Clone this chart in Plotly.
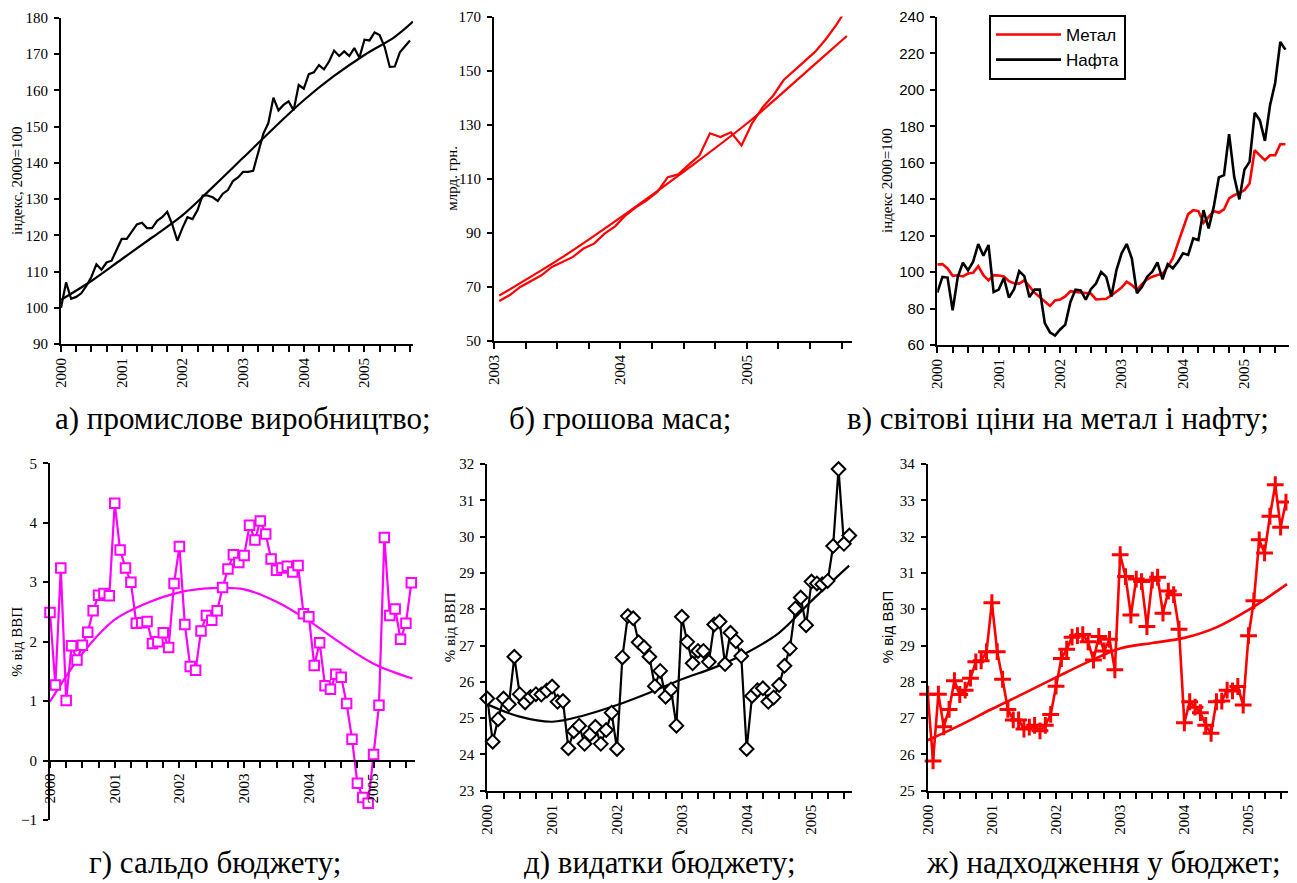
import plotly.graph_objects as go

# target image is 1297x883; the page body adds an 8px margin, so the figure is
# drawn 8px smaller and every layout position is shifted by that margin.
TW, TH = 1297, 883
OFF = 8
W, H = TW - OFF, TH - OFF
SERIF = "Liberation Serif, Times New Roman, Times, serif"
SANS = "Liberation Sans, Arial, Helvetica, sans-serif"
RED = "#FF0000"
MAG = "#FF00FF"

# ---------------- data ----------------
# a) industrial production, monthly from Jan 2000
prod_index = [100, 107, 102.5, 103, 104, 106, 108.5, 112, 110.5, 112.5, 113, 116,
              119, 119, 121, 123, 123.5, 122, 122, 124, 125, 126.5, 123, 118.5,
              122, 125, 124.5, 127, 131, 131, 130.5, 129.5, 131.5, 132.5, 135, 136,
              137.5, 137.5, 137.8, 143, 148, 151, 158, 154.5, 156, 157, 154.5, 161.5,
              160.5, 164.5, 165, 167, 165.8, 168, 171, 169.5, 170.8, 169.5, 171.7, 169,
              174, 173.8, 176, 175.3, 172, 166.5, 166.6, 170.5, 172, 173.8]
prod_trend_t = [0, 0.5, 1, 1.5, 2, 2.5, 3, 3.5, 4, 4.5, 5, 5.5, 5.8]
prod_trend_v = [102.2, 107.4, 113.4, 119.4, 125.5, 133.3, 141.4, 149.5, 157.3, 164, 169.8, 174.8, 179]
prod_years = [2000, 2001, 2002, 2003, 2004, 2005]

# b) money supply, monthly from Jan 2003
money = [64.8, 67, 70, 72.1, 74.3, 77.4, 79.3, 81.1, 84.2, 86, 89.7, 92.4,
         96.5, 99.5, 102, 105.1, 110.6, 111.6, 115.2, 118.6, 126.8, 125.4, 127.2, 122.3,
         130.5, 136.4, 140.7, 146.5, 150, 153.6, 157, 161.6, 166.9, 173]
money_trend_k = [0, 6, 12, 18, 24, 30, 33]
money_trend_v = [66.8, 81, 97, 114, 132, 152.5, 162.8]
money_years = [2003, 2004, 2005]

# c) world prices, monthly from Jan 2000
metal = [104.2, 104.4, 102, 98, 98.3, 97.6, 99.2, 99.6, 103.3, 98.3, 95.5, 98.3,
         98.1, 97.6, 95, 93.9, 93.7, 95.5, 92.2, 88.7, 86.3, 83.6, 81.4, 84.5,
         85, 86.7, 89.5, 89.1, 88.7, 88.5, 88.2, 85, 85, 85.4, 87.2, 89.2,
         91.6, 94.7, 92.9, 90.2, 93.5, 96, 97.5, 98.4, 99, 102.9, 107.5, 115.8,
         124, 131.8, 134, 133.5, 127, 130.4, 133.5, 132.6, 134.4, 140.4, 142.2, 143.5,
         145, 148.6, 166.9, 164.1, 161.4, 164.1, 164.1, 170.2, 170.2]
oil = [88.7, 97.4, 97, 79, 97.4, 105.1, 101, 105.7, 115.4, 109, 114.9, 89.1,
       90.4, 96.8, 86, 90.6, 100.5, 97.8, 86.3, 90.4, 90.4, 72, 67, 65.2,
       68.5, 71.2, 83.6, 90.4, 90, 84.9, 90.6, 93.7, 100.1, 97.4, 86.6, 101.1,
       110.3, 115.4, 107.5, 88.4, 92, 97.5, 100.2, 105.3, 96, 104.4, 102.1, 105.7,
       110.3, 109.4, 118.5, 117.6, 134, 124, 135.8, 152, 153.2, 175.7, 152.3, 139.9,
       156.3, 160.5, 187.4, 183.4, 172, 191.6, 203.8, 226.3, 222.1]
price_years = [2000, 2001, 2002, 2003, 2004, 2005]

# d) budget balance, % of GDP, monthly from Jan 2000
balance = [2.49, 1.27, 3.24, 1.01, 1.93, 1.69, 1.94, 2.16, 2.52, 2.78, 2.81, 2.77,
           4.33, 3.54, 3.24, 3.0, 2.31, 2.32, 2.34, 1.97, 2.0, 2.15, 1.9, 2.98,
           3.6, 2.29, 1.58, 1.52, 2.18, 2.44, 2.36, 2.52, 2.91, 3.22, 3.46, 3.33,
           3.45, 3.96, 3.71, 4.03, 3.81, 3.39, 3.2, 3.24, 3.27, 3.17, 3.28, 2.47,
           2.42, 1.6, 1.98, 1.26, 1.2, 1.45, 1.4, 0.96, 0.36, -0.38, -0.62, -0.72,
           0.1, 0.93, 3.75, 2.44, 2.55, 2.04, 2.31, 2.99]
balance_trend_t = [0, 0.5, 1, 1.5, 2, 2.5, 3, 3.5, 4, 4.5, 5, 5.6]
balance_trend_v = [0.99, 1.8, 2.37, 2.65, 2.83, 2.9, 2.88, 2.67, 2.35, 1.97, 1.63, 1.38]

# e) budget expenditures, % of GDP
spend = [25.54, 24.35, 24.97, 25.54, 25.38, 26.69, 25.66, 25.43, 25.58, 25.66, 25.65, 25.76,
         25.87, 25.45, 25.47, 24.17, 24.64, 24.79, 24.29, 24.55, 24.76, 24.29, 24.67, 25.15,
         24.15, 26.67, 27.81, 27.75, 27.09, 26.95, 26.69, 25.88, 26.3, 25.59, 25.79, 24.79,
         27.79, 27.1, 26.51, 26.85, 26.85, 26.55, 27.58, 27.66, 26.49, 27.35, 27.12, 26.71,
         24.15, 25.61, 25.77, 25.82, 25.45, 25.57, 25.91, 26.44, 26.92, 28.02, 28.32, 27.56,
         28.76, 28.71, 28.69, 28.78, 29.74, 31.86, 29.8, 30.03]
spend_trend_t = [0, 0.5, 1, 1.5, 2, 2.5, 3, 3.5, 4, 4.5, 5, 5.58]
spend_trend_v = [25.38, 25.04, 24.9, 25.08, 25.36, 25.7, 26.07, 26.39, 26.8, 27.35, 28.23, 29.2]

# f) budget revenues, % of GDP
revenue = [27.66, 25.82, 27.66, 26.76, 27.24, 28.03, 27.65, 27.77, 28.1, 28.55, 28.58, 28.83,
           30.18, 28.83, 28.07, 27.24, 26.95, 26.95, 26.7, 26.75, 26.8, 26.65, 26.8, 27.1,
           27.88, 28.64, 28.9, 29.23, 29.27, 29.3, 29.1, 28.6, 29.25, 28.85, 29.17, 28.33,
           31.5, 30.9, 29.84, 30.83, 30.76, 29.52, 30.8, 30.88, 29.89, 30.5, 30.4, 29.45,
           26.87, 27.45, 27.3, 27.15, 26.8, 26.58, 27.45, 27.47, 27.77, 27.75, 27.87, 27.36,
           29.27, 30.23, 31.91, 31.55, 32.56, 33.43, 32.26, 32.95]
revenue_trend_t = [0, 0.5, 1, 1.5, 2, 2.5, 3, 3.5, 4, 4.5, 5, 5.6]
revenue_trend_v = [26.39, 26.8, 27.25, 27.68, 28.12, 28.55, 28.92, 29.07, 29.21, 29.5, 29.98, 30.69]

captions = ["а) промислове виробництво;", "б) грошова маса;",
            "в) світові ціни на метал і нафту;", "г) сальдо бюджету;",
            "д) видатки бюджету;", "ж) надходження у бюджет;"]
ytitles = ["індекс, 2000=100", "млрд. грн.", "індекс 2000=100",
           "% від ВВП", "% від ВВП", "% від ВВП"]


def months(start_year, n, offset=0.0):
    return [start_year + (i + offset) / 12 for i in range(n)]


fig = go.Figure()
LW = 2.2

# a
fig.add_trace(go.Scatter(x=[2000 + t for t in prod_trend_t], y=prod_trend_v, mode="lines",
                         line=dict(color="black", width=LW, shape="spline"),
                         xaxis="x", yaxis="y", showlegend=False))
fig.add_trace(go.Scatter(x=months(2000, len(prod_index)), y=prod_index, mode="lines",
                         line=dict(color="black", width=LW), xaxis="x", yaxis="y", showlegend=False))
# b
fig.add_trace(go.Scatter(x=[2003 + (k + 0.5) / 12 for k in money_trend_k], y=money_trend_v,
                         mode="lines", line=dict(color=RED, width=LW, shape="spline"),
                         xaxis="x2", yaxis="y2", showlegend=False))
fig.add_trace(go.Scatter(x=months(2003, len(money), 0.5), y=money, mode="lines",
                         line=dict(color=RED, width=LW), xaxis="x2", yaxis="y2", showlegend=False))
# c
fig.add_trace(go.Scatter(x=months(2000, len(metal)), y=metal, mode="lines", name="Метал",
                         line=dict(color=RED, width=2.6), xaxis="x3", yaxis="y3",
                         legendgroup="m"))
fig.add_trace(go.Scatter(x=months(2000, len(oil)), y=oil, mode="lines", name="Нафта",
                         line=dict(color="black", width=2.6), xaxis="x3", yaxis="y3",
                         legendgroup="o"))
# d
fig.add_trace(go.Scatter(x=[2000 + t for t in balance_trend_t], y=balance_trend_v, mode="lines",
                         line=dict(color=MAG, width=LW, shape="spline"),
                         xaxis="x4", yaxis="y4", showlegend=False))
fig.add_trace(go.Scatter(x=months(2000, len(balance)), y=balance, mode="lines+markers",
                         line=dict(color=MAG, width=LW),
                         marker=dict(symbol="square", size=9.5, color="white",
                                     line=dict(color=MAG, width=2)),
                         cliponaxis=False, xaxis="x4", yaxis="y4", showlegend=False))
# e
fig.add_trace(go.Scatter(x=[2000 + t for t in spend_trend_t], y=spend_trend_v, mode="lines",
                         line=dict(color="black", width=LW, shape="spline"),
                         xaxis="x5", yaxis="y5", showlegend=False))
fig.add_trace(go.Scatter(x=months(2000, len(spend)), y=spend, mode="lines+markers",
                         line=dict(color="black", width=LW),
                         marker=dict(symbol="diamond", size=10.5, color="white",
                                     line=dict(color="black", width=2)),
                         cliponaxis=False, xaxis="x5", yaxis="y5", showlegend=False))
# f
fig.add_trace(go.Scatter(x=[2000 + t for t in revenue_trend_t], y=revenue_trend_v, mode="lines",
                         line=dict(color=RED, width=LW + 0.4, shape="spline"),
                         xaxis="x6", yaxis="y6", showlegend=False))
fig.add_trace(go.Scatter(x=months(2000, len(revenue)), y=revenue, mode="lines+markers",
                         line=dict(color=RED, width=LW + 0.4),
                         marker=dict(symbol="cross-thin", size=12, color=RED,
                                     line=dict(color=RED, width=3)),
                         cliponaxis=False, xaxis="x6", yaxis="y6", showlegend=False))


def px_x(x):
    return (x - OFF) / W


def px_y(y):
    return 1 - (y - OFF) / H


def xdom(l, r):
    return [px_x(l), px_x(r)]


def ydom(top, bottom):
    return [px_y(bottom), px_y(top)]


def quarter_ticks(years, end):
    vals, texts = [], []
    for y in years:
        for q in range(4):
            v = y + q / 4
            if v <= end + 1e-9:
                vals.append(v)
                texts.append(str(y) if q == 0 else "")
    return vals, texts


panels = [
    dict(l=61, r=413, t=18, b=344, xr=[2000, 2005.8], yr=[90, 180], dt=10, yrs=prod_years, yf=SERIF, tx=17, tf=SERIF),
    dict(l=494, r=851.7, t=16.5, b=341, xr=[2003, 2005.83], yr=[50, 170], dt=20, yrs=money_years, yf=SERIF, tx=452, tf=SERIF),
    dict(l=937.3, r=1289.3, t=17, b=345, xr=[2000, 2005.73], yr=[60, 240], dt=20, yrs=price_years, yf=SANS, tx=887, tf=SERIF),
    dict(l=50, r=415, t=463.3, b=820, xr=[2000, 2005.64], yr=[-1, 5], dt=1, yrs=price_years, yf=SERIF, tx=17, tf=SERIF),
    dict(l=487.3, r=851.7, t=464, b=790.7, xr=[2000, 2005.62], yr=[23, 32], dt=1, yrs=price_years, yf=SERIF, tx=450, tf=SERIF),
    dict(l=927.7, r=1288.3, t=464, b=790.7, xr=[2000, 2005.62], yr=[25, 34], dt=1, yrs=price_years, yf=SERIF, tx=887, tf=SANS),
]

annotations = []
for i, p in enumerate(panels, start=1):
    sfx = "" if i == 1 else str(i)
    tv, tt = quarter_ticks(p["yrs"], p["xr"][1])
    yd = ydom(p["t"], p["b"])
    xa = dict(domain=xdom(p["l"], p["r"]), range=p["xr"], tickvals=tv, ticktext=tt,
              tickangle=-90, ticks="outside", ticklen=6, tickwidth=2, tickcolor="black",
              showline=True, linewidth=2, linecolor="black", showgrid=False, zeroline=False,
              tickfont=dict(family=SERIF, size=15, color="black"), anchor="y" + sfx,
              automargin=False, ticklabeloverflow="allow", fixedrange=True)
    if i == 4:
        pos = yd[0] + (0 - p["yr"][0]) / (p["yr"][1] - p["yr"][0]) * (yd[1] - yd[0])
        xa.update(anchor="free", position=pos)
    ya = dict(domain=yd, range=p["yr"], dtick=p["dt"], tick0=p["yr"][0], ticks="outside",
              ticklen=5, tickwidth=2, tickcolor="black", showline=True, linewidth=2,
              linecolor="black", showgrid=False, zeroline=False, ticklabelstandoff=3,
              tickfont=dict(family=p["yf"], size=15, color="black"), anchor="x" + sfx,
              automargin=False, ticklabeloverflow="allow", fixedrange=True)
    fig.layout["xaxis" + sfx] = xa
    fig.layout["yaxis" + sfx] = ya
    annotations.append(dict(x=px_x(p["tx"]), y=(yd[0] + yd[1]) / 2, xref="paper", yref="paper",
                            text=ytitles[i - 1], textangle=-90, showarrow=False,
                            xanchor="center", yanchor="middle",
                            font=dict(family=p["tf"], size=15, color="black")))

cap_pos = [(243, 418), (620, 418), (1058, 418), (215, 862), (660, 862), (1103, 862)]
for (cx, cy), txt in zip(cap_pos, captions):
    annotations.append(dict(x=px_x(cx), y=px_y(cy), xref="paper", yref="paper", text=txt,
                            showarrow=False, xanchor="center", yanchor="middle",
                            font=dict(family=SERIF, size=31, color="black")))

fig.update_layout(
    width=W, height=H, margin=dict(l=0, r=0, t=0, b=0, pad=0, autoexpand=False),
    paper_bgcolor="white", plot_bgcolor="white",
    annotations=annotations,
    legend=dict(x=px_x(989), y=px_y(15), xanchor="left", yanchor="top",
                bordercolor="black", borderwidth=2, bgcolor="white",
                font=dict(family=SANS, size=17, color="black"),
                tracegroupgap=8, itemwidth=65, traceorder="normal"),
)

fig.write_html("out.html")
